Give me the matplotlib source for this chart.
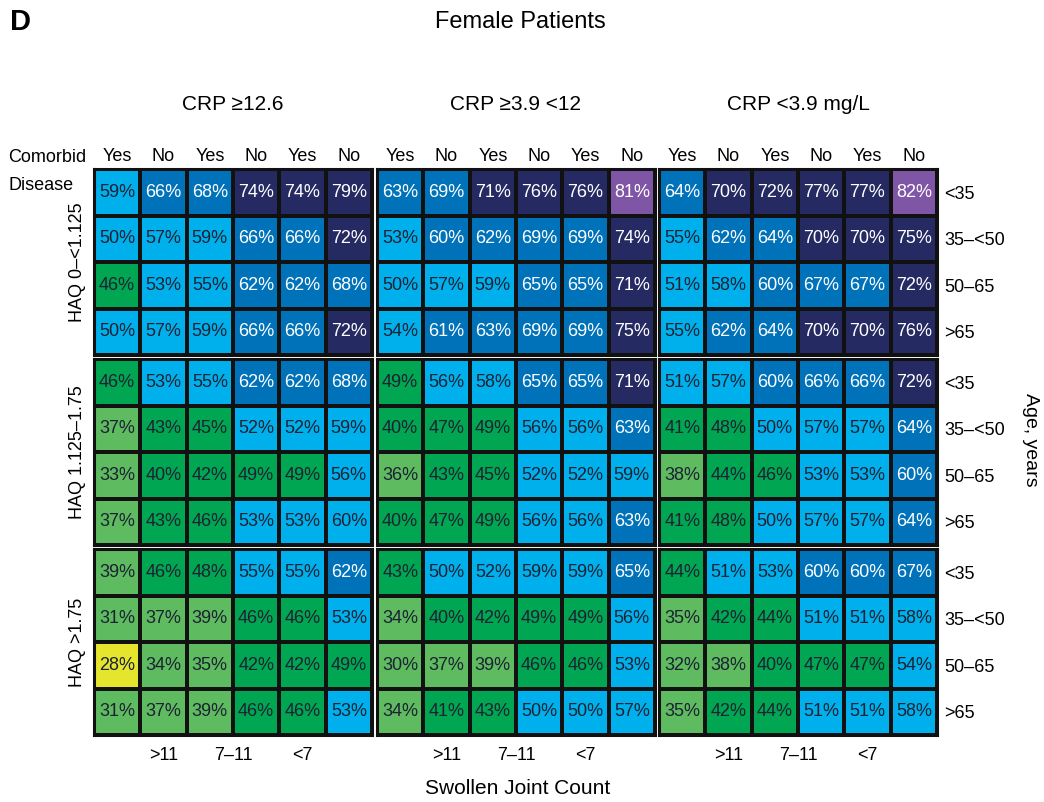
import matplotlib
matplotlib.use("Agg")
import matplotlib.pyplot as plt
from matplotlib.colors import ListedColormap, BoundaryNorm
import numpy as np

plt.rcParams['font.family'] = ['Liberation Sans', 'DejaVu Sans']

# ---------------- data ----------------
crp_panels = ["CRP \u226512.6", "CRP \u22653.9 <12", "CRP <3.9 mg/L"]
haq_groups = ["HAQ 0\u2013<1.125", "HAQ 1.125\u20131.75", "HAQ >1.75"]
age_labels = ["<35", "35\u2013<50", "50\u201365", ">65"]
comorbid_labels = ["Yes", "No", "Yes", "No", "Yes", "No"]
sjc_labels = [">11", "7\u201311", "<7"]

# rows: HAQ group x age (12 rows), columns: SJC x comorbid (6 columns)
crp_high = [
    [59, 66, 68, 74, 74, 79],
    [50, 57, 59, 66, 66, 72],
    [46, 53, 55, 62, 62, 68],
    [50, 57, 59, 66, 66, 72],
    [46, 53, 55, 62, 62, 68],
    [37, 43, 45, 52, 52, 59],
    [33, 40, 42, 49, 49, 56],
    [37, 43, 46, 53, 53, 59.6],
    [39, 46, 48, 55, 55, 62],
    [31, 37, 39, 46, 46, 53],
    [28, 34, 35, 42, 42, 49],
    [31, 37, 39, 46, 46, 53],
]
crp_mid = [
    [63, 69, 71, 76, 76, 81],
    [53, 60, 62, 69, 69, 74],
    [50, 57, 59, 65, 65, 71],
    [54, 61, 63, 69, 69, 75],
    [49, 56, 58, 65, 65, 71],
    [40, 47, 49, 56, 56, 63],
    [36, 43, 45, 52, 52, 59],
    [40, 47, 49, 56, 56, 63],
    [43, 50, 52, 59, 59, 65],
    [34, 40, 42, 49, 49, 56],
    [30, 37, 39, 46, 46, 53],
    [34, 41, 43, 50, 50, 57],
]
crp_low = [
    [64, 70, 72, 77, 77, 82],
    [55, 62, 64, 70, 70, 75],
    [51, 58, 60, 67, 67, 72],
    [55, 62, 64, 70, 70, 76],
    [51, 57, 60, 66, 66, 72],
    [41, 48, 50, 57, 57, 64],
    [38, 44, 46, 53, 53, 60],
    [41, 48, 50, 57, 57, 64],
    [44, 51, 53, 60, 60, 67],
    [35, 42, 44, 51, 51, 58],
    [32, 38, 40, 47, 47, 54],
    [35, 42, 44, 51, 51, 58],
]
panel_data = [crp_high, crp_mid, crp_low]

bounds = [0, 30, 40, 50, 60, 70, 80, 100]
colors = ['#e6e52e', '#5fbb60', '#00a651', '#00b0ec', '#0072ba', '#262a62', '#7f55a6']
cmap = ListedColormap(colors)
norm = BoundaryNorm(bounds, cmap.N)

# ---------------- layout ----------------
W, H = 1044, 802
fig = plt.figure(figsize=(W / 100, H / 100), dpi=100)

panel_x = [94, 377, 659]
panel_w = 278
block_y = [169, 359, 549]
block_h = 186

dark_text = '#1c2233'

for bi in range(3):
    for pi in range(3):
        x, y = panel_x[pi], block_y[bi]
        ax = fig.add_axes([x / W, 1 - (y + block_h) / H, panel_w / W, block_h / H])
        data = np.array(panel_data[pi][bi * 4:(bi + 1) * 4], dtype=float)
        ax.pcolormesh(np.arange(7), np.arange(5), data, cmap=cmap, norm=norm,
                      edgecolors='#111111', linewidth=1.6)
        ax.set_xlim(0, 6)
        ax.set_ylim(4, 0)
        for r in range(4):
            for c in range(6):
                v = data[r, c]
                tc = 'white' if v >= 60 else dark_text
                ax.text(c + 0.5, r + 0.5, f"{round(v)}%", ha='center', va='center',
                        fontsize=13, color=tc)
        for s in ax.spines.values():
            s.set_linewidth(2.2)
            s.set_color('#111111')
        ax.tick_params(length=0)
        ax.set_xticks([])
        ax.set_yticks([])
        if bi == 0:
            ax.xaxis.tick_top()
            ax.set_xticks(np.arange(6) + 0.5)
            ax.set_xticklabels(comorbid_labels, fontsize=13)
            ax.tick_params(axis='x', pad=3, length=0)
        if bi == 2:
            ax.set_xticks([1.5, 3.0, 4.5])
            ax.set_xticklabels(sjc_labels, fontsize=13)
            ax.tick_params(axis='x', pad=9, length=0, bottom=True, labelbottom=True)
        if pi == 0:
            ax.set_ylabel(haq_groups[bi], fontsize=13, labelpad=6)
        if pi == 2:
            ax.yaxis.tick_right()
            ax.set_yticks(np.arange(4) + 0.5)
            ax.set_yticklabels(age_labels, fontsize=13)
            ax.tick_params(axis='y', pad=5, length=0)

def ftext(px, py, s, **kw):
    fig.text(px / W, 1 - py / H, s, **kw)

ftext(10, 22, "D", fontsize=21, fontweight='bold', ha='left', va='center')
ftext(520, 22, "Female Patients", fontsize=17, ha='center', va='center')
for pi, lab in enumerate(crp_panels):
    ftext(panel_x[pi] + panel_w / 2, 104, lab, fontsize=15, ha='center', va='center')
ftext(8, 157, "Comorbid", fontsize=13, ha='left', va='center')
ftext(8, 186, "Disease", fontsize=13, ha='left', va='center')
ftext(1030, 440, "Age, years", fontsize=14, ha='center', va='center', rotation=270)
ftext(518, 789, "Swollen Joint Count", fontsize=15, ha='center', va='center')

fig.savefig("out.png", dpi=100, facecolor='white')
